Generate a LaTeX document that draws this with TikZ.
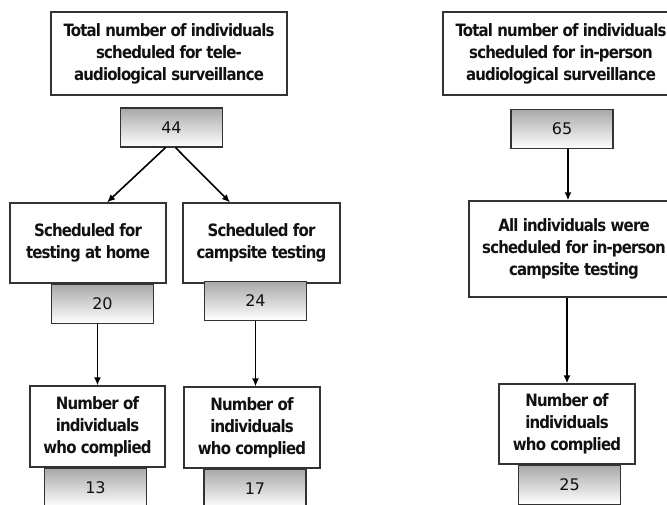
\documentclass[tikz,border=0pt]{standalone}
\usepackage{fontspec}
\setmainfont{DejaVu Sans}
\newfontfamily\stagefont[FakeStretch=0.88, LetterSpace=-5]{DejaVu Sans}
\usetikzlibrary{arrows.meta, positioning, calc}
\definecolor{boxink}{HTML}{111111}
\definecolor{boxbd}{HTML}{333333}
\definecolor{countdk}{HTML}{A8A8A8}
\tikzset{
  stagebox/.style={draw=boxbd, fill=white, align=center, inner sep=2pt,
    font=\stagefont\bfseries\fontsize{17}{22}\selectfont, text=boxink, line width=1.2pt},
  countbox/.style={draw=boxbd, top color=countdk, bottom color=white, minimum width=102pt,
    minimum height=39pt, font=\fontsize{16}{19}\selectfont, text=boxink, line width=1.2pt},
  flow/.style={-{Latex[length=8pt,width=7pt]}, draw=black, line width=1.6pt}
}

\begin{document}
\begin{tikzpicture}[x=1pt, y=-1pt]
\clip (0,0) rectangle (667,505);
\node[stagebox, minimum width=236pt, minimum height=83pt] (tele) at (169,53.5) {Total number of individuals\\scheduled for tele-\\audiological surveillance};
\node[countbox] (n44) at (171.5,127.5) {44};
\node[stagebox, minimum width=156pt, minimum height=80pt] (home) at (88,243) {Scheduled for\\testing at home};
\node[stagebox, minimum width=157pt, minimum height=80pt] (camp) at (261.5,243) {Scheduled for\\campsite testing};
\node[countbox, below=0pt of home, xshift=14.5pt] (n20) {20};
\node[countbox, below=-3pt of camp, xshift=-6pt] (n24) {24};
\node[stagebox, minimum width=135pt, minimum height=81pt] (homedone) at (97.5,426.5) {Number of\\individuals\\who complied};
\node[stagebox, minimum width=136pt, minimum height=81pt] (campdone) at (252,427.5) {Number of\\individuals\\who complied};
\node[countbox, below=0pt of homedone, xshift=-2pt] (n13) {13};
\node[countbox, below=0pt of campdone, xshift=3pt] (n17) {17};
\node[stagebox, minimum width=236pt, minimum height=83pt] (inperson) at (561,53.5) {Total number of individuals\\scheduled for in-person\\audiological surveillance};
\node[countbox] (n65) at (562,129) {65};
\node[stagebox, minimum width=210pt, minimum height=96pt] (allcamp) at (574,249) {All individuals were\\scheduled for in-person\\campsite testing};
\node[stagebox, minimum width=136pt, minimum height=80pt] (persondone) at (567,424) {Number of\\individuals\\who complied};
\node[countbox, below=0pt of persondone, xshift=2.5pt] (n25) {25};
\draw[flow] ([xshift=-6pt]n44.south)--([xshift=19pt]home.north); \draw[flow] ([xshift=4pt]n44.south)--([xshift=-31.5pt]camp.north);
\draw[flow] (homedone.north |- n20.south)--(homedone.north); \draw[flow] (n24.south)--(n24.south |- campdone.north);
\draw[flow] ([xshift=6pt]n65.south)--([xshift=6pt]n65.south |- allcamp.north); \draw[flow] (persondone.north |- allcamp.south)--(persondone.north);
\end{tikzpicture}
\end{document}
